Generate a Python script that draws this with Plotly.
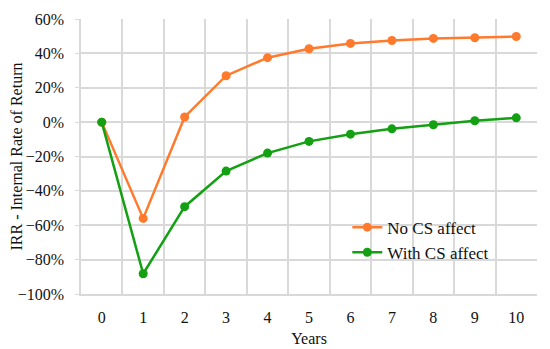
import plotly.graph_objects as go

years = ["0", "1", "2", "3", "4", "5", "6", "7", "8", "9", "10"]
no_cs = [0.0, -0.56, 0.03, 0.27, 0.375, 0.427, 0.458, 0.475, 0.487, 0.491, 0.498]
with_cs = [0.0, -0.882, -0.492, -0.285, -0.18, -0.112, -0.07, -0.039, -0.015, 0.008, 0.025]
y_ticks = [-1.0, -0.8, -0.6, -0.4, -0.2, 0.0, 0.2, 0.4, 0.6]

orange = "#FF7A2C"
green = "#13A013"
grid = "#D9D9D9"
font_family = "Times New Roman, Liberation Serif, serif"

fig = go.Figure()
fig.add_trace(go.Scatter(x=years, y=no_cs, name="No CS affect", mode="lines+markers",
                         line=dict(color=orange, width=2.5), marker=dict(color=orange, size=9)))
fig.add_trace(go.Scatter(x=years, y=with_cs, name="With CS affect", mode="lines+markers",
                         line=dict(color=green, width=2.5), marker=dict(color=green, size=9)))

# page body has an 8px margin, so the figure is slightly smaller and offset
fig.update_layout(
    width=542, height=341,
    margin=dict(l=73, r=13, t=11, b=55),
    paper_bgcolor="white", plot_bgcolor="white",
    font=dict(family=font_family, size=16, color="#111111"),
    showlegend=True,
    legend=dict(x=0.584, y=0.307, xanchor="left", yanchor="top",
                bgcolor="rgba(0,0,0,0)", font=dict(family=font_family, size=17), itemwidth=30,
                tracegroupgap=0),
    xaxis=dict(type="category", tickson="boundaries", showgrid=True, gridcolor=grid,
               gridwidth=1.5, showline=True, linecolor=grid, linewidth=1.5, ticks="",
               automargin=False, ticklabelstandoff=8,
               title=dict(text="Years", standoff=8, font=dict(family=font_family, size=16)),
               tickfont=dict(family=font_family, size=16), range=[-0.5, 10.5]),
    yaxis=dict(range=[-1.0, 0.6], tickvals=y_ticks, tickformat=".0%", showgrid=True,
               gridcolor=grid, gridwidth=1.5, showline=True, linecolor=grid, linewidth=1.5,
               ticks="outside", ticklen=4, tickcolor=grid, zeroline=False,
               automargin=False, ticklabelstandoff=8,
               title=dict(text="IRR - Internal Rate of Return", standoff=0,
                          font=dict(family=font_family, size=16)),
               tickfont=dict(family=font_family, size=16)),
)

fig.write_html("out.html")
